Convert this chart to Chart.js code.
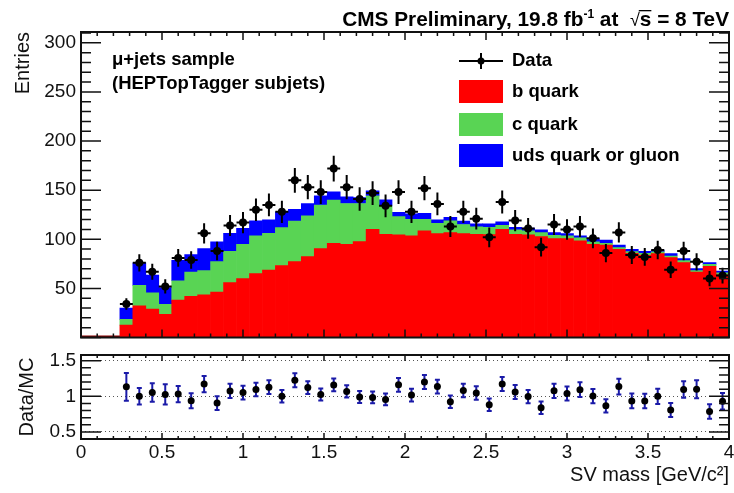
<!DOCTYPE html>
<html>
<head>
<meta charset="utf-8">
<script src="https://cdn.jsdelivr.net/npm/chart.js@4.4.0/dist/chart.umd.min.js"></script>
<style>
  html, body { margin: 0; padding: 0; background: #fff; }
  #wrap { position: relative; width: 734px; height: 493px; }
  #main { position: absolute; left: 0; top: 0; }
  #ratio { position: absolute; left: 0; top: 345px; }
</style>
</head>
<body>
<div id="wrap">
  <canvas id="main" width="734" height="345"></canvas>
  <canvas id="ratio" width="734" height="148"></canvas>
</div>
<script>
const FONT = "'Liberation Sans', Arial, Helvetica, sans-serif";

// SV mass bins, 0.08 GeV wide, 0 - 4 GeV
const binWidth = 0.08;
const binCenters = [
  0.04, 0.12, 0.20, 0.28, 0.36, 0.44, 0.52, 0.60, 0.68, 0.76,
  0.84, 0.92, 1.00, 1.08, 1.16, 1.24, 1.32, 1.40, 1.48, 1.56,
  1.64, 1.72, 1.80, 1.88, 1.96, 2.04, 2.12, 2.20, 2.28, 2.36,
  2.44, 2.52, 2.60, 2.68, 2.76, 2.84, 2.92, 3.00, 3.08, 3.16,
  3.24, 3.32, 3.40, 3.48, 3.56, 3.64, 3.72, 3.80, 3.88, 3.96
];

// simulation, per flavour
const bQuark = [
  0, 0, 0, 12.6, 32.3, 29, 23.5, 38, 42, 43.5,
  46.3, 55.8, 59.9, 65, 68.7, 73.1, 77.2, 82.3, 90.5, 95.9,
  94.9, 97.6, 110.2, 105.1, 104.4, 103.4, 108.5, 105.8, 106.8, 105.8,
  105.1, 104.8, 110.2, 105.1, 104.4, 102.7, 100.7, 100.7, 98.3, 94.9,
  94.2, 89.8, 85.7, 83.7, 85.4, 81.3, 76.2, 66.5, 72.5, 63.8
];
const cQuark = [
  0, 0, 0, 5.8, 20.7, 16.6, 10.2, 19.8, 24.7, 24.5,
  30.9, 32, 35, 38.4, 37.3, 38.8, 41.2, 41.5, 44.2, 43.9,
  41.5, 38.8, 34, 28.9, 18.7, 17, 11.9, 10.5, 11.9, 9.2,
  7.5, 7.4, 4.1, 4.4, 4.1, 4.1, 3.4, 2.7, 3.1, 2.4,
  1.7, 1.7, 1.7, 2, 1.7, 1.7, 2, 1.5, 2, 2.1
];
const udsQuark = [
  0, 0, 0, 11.6, 23, 18, 17, 20.8, 17.7, 22.5,
  20.1, 18.2, 16.3, 15.3, 13.7, 16, 12.2, 12.6, 9.5, 8.5,
  6.8, 6.1, 5.1, 6.1, 4.4, 5.5, 6.1, 3.4, 3.7, 3.4,
  3, 3.4, 3.4, 2.7, 3, 2.7, 2.7, 2.4, 2, 3.4,
  3.4, 2.7, 2.4, 2.1, 2, 2.4, 2.1, 2.1, 1.7, 1.8
];
// observed events
const dataCounts = [
  null, null, null, 34, 76, 67, 52, 81, 79, 106,
  88, 114, 117, 130, 135, 128, 160, 153, 148, 172,
  153, 141, 147, 134, 148, 128, 152, 136, 113, 128,
  121, 102, 138, 119, 111, 92, 115, 110, 113, 101,
  86, 107, 84, 82, 89, 69, 88, 77, 60, 63
];

// tick labels
const xTickValues = [0, 0.5, 1, 1.5, 2, 2.5, 3, 3.5, 4];
const yTickValues = [50, 100, 150, 200, 250, 300];
const ratioTickValues = [0.5, 1, 1.5];

const mcTotal = binCenters.map((_, i) => bQuark[i] + cQuark[i] + udsQuark[i]);

const dataPoints = [];
const ratioPoints = [];
binCenters.forEach((x, i) => {
  const n = dataCounts[i];
  if (n === null) return;
  dataPoints.push({ x, y: n, err: Math.sqrt(n) });
  ratioPoints.push({ x, y: n / mcTotal[i], err: Math.sqrt(n) / mcTotal[i] });
});

const COLORS = { b: '#ff0000', c: '#59d454', uds: '#0000ff' };

function bars(label, values, color) {
  return {
    label,
    data: binCenters.map((x, i) => ({ x, y: values[i] })),
    backgroundColor: color,
    borderWidth: 0,
    barPercentage: 1,
    categoryPercentage: 1,
    stack: 'mc'
  };
}

// fixed axis boxes so both panels share the same left/right edges
const fixWidth = w => s => { s.width = w; s.paddingTop = 0; s.paddingBottom = 0; };
const fixHeight = h => s => { s.height = h; s.paddingLeft = 0; s.paddingRight = 0; };
const plainLabel = v => String(v);

// inner ticks on all four sides + frame, ROOT style
const frameTicks = {
  id: 'frameTicks',
  afterDraw(chart, args, o) {
    const { ctx, chartArea: a, scales } = chart;
    const xs = scales.x, ys = scales.y;
    const isMajor = (v, step) => Math.abs(v / step - Math.round(v / step)) < 1e-6;
    ctx.save();
    ctx.strokeStyle = '#111';
    ctx.lineWidth = 1.5;
    ctx.beginPath();
    for (let k = 0; ; k++) {
      const v = xs.min + k * o.xStep;
      if (v > xs.max + 1e-9) break;
      const px = xs.getPixelForValue(v);
      const len = isMajor(v, o.xMajorStep) ? o.xMajor : o.xMinor;
      ctx.moveTo(px, a.bottom); ctx.lineTo(px, a.bottom - len);
      ctx.moveTo(px, a.top); ctx.lineTo(px, a.top + len);
    }
    for (let k = 0; ; k++) {
      const v = o.yStart + k * o.yStep;
      if (v > ys.max + 1e-9) break;
      if (v < ys.min - 1e-9) continue;
      const py = ys.getPixelForValue(v);
      const len = isMajor(v, o.yMajorStep) ? o.yMajor : o.yMinor;
      ctx.moveTo(a.left, py); ctx.lineTo(a.left + len, py);
      ctx.moveTo(a.right, py); ctx.lineTo(a.right - len, py);
    }
    ctx.stroke();
    ctx.lineWidth = 2;
    ctx.strokeRect(a.left, a.top, a.right - a.left, a.bottom - a.top);
    ctx.restore();
  }
};

// error bars for the data points
const errorBars = {
  id: 'errorBars',
  afterDatasetsDraw(chart, args, o) {
    const { ctx, scales: { x: xs, y: ys } } = chart;
    const ds = chart.data.datasets[o.dataset];
    const meta = chart.getDatasetMeta(o.dataset);
    ctx.save();
    ctx.strokeStyle = o.color;
    ctx.lineWidth = 2;
    ctx.beginPath();
    ds.data.forEach(p => {
      const px = xs.getPixelForValue(p.x);
      const top = ys.getPixelForValue(p.y + p.err);
      const bot = ys.getPixelForValue(p.y - p.err);
      ctx.moveTo(px, top); ctx.lineTo(px, bot);
      if (o.horizontal) {
        const py = ys.getPixelForValue(p.y);
        ctx.moveTo(xs.getPixelForValue(p.x - binWidth / 2), py);
        ctx.lineTo(xs.getPixelForValue(p.x + binWidth / 2), py);
      }
      if (o.cap) {
        ctx.moveTo(px - o.cap, top); ctx.lineTo(px + o.cap, top);
        ctx.moveTo(px - o.cap, bot); ctx.lineTo(px + o.cap, bot);
      }
    });
    ctx.stroke();
    // markers on top of the bars
    ctx.fillStyle = '#000';
    meta.data.forEach(pt => {
      ctx.beginPath();
      ctx.arc(pt.x, pt.y, o.radius, 0, Math.PI * 2);
      ctx.fill();
    });
    ctx.restore();
  }
};

// empty bins: histogram outline along zero
const emptyBins = {
  id: 'emptyBins',
  afterDatasetsDraw(chart) {
    const { ctx, scales: { x: xs, y: ys } } = chart;
    ctx.save();
    ctx.strokeStyle = '#8b0000';
    ctx.lineWidth = 2;
    ctx.beginPath();
    binCenters.forEach((x, i) => {
      if (mcTotal[i] > 0) return;
      const py = ys.getPixelForValue(0) - 1;
      ctx.moveTo(xs.getPixelForValue(x - binWidth / 2), py);
      ctx.lineTo(xs.getPixelForValue(x + binWidth / 2), py);
    });
    ctx.stroke();
    ctx.restore();
  }
};

// header, sample label and legend
const annotations = {
  id: 'annotations',
  afterDraw(chart) {
    const ctx = chart.ctx;
    const bold = '18.5px ' + FONT;
    const head = '20.8px ' + FONT;
    ctx.save();
    ctx.fillStyle = '#000';

    // header, right aligned to the frame
    const right = chart.chartArea.right;
    const base = 26;
    const parts = [
      { t: 'CMS Preliminary, 19.8 fb', f: 'bold ' + head, dy: 0 },
      { t: '-1', f: 'bold 12px ' + FONT, dy: -8 },
      { t: ' at  ', f: 'bold ' + head, dy: 0 },
      { t: '\u221A', f: '18px ' + FONT, dy: 0 },
      { t: 's', f: 'bold ' + head, dy: 0, bar: true },
      { t: ' = 8 TeV', f: 'bold ' + head, dy: 0 }
    ];
    let total = 0;
    parts.forEach(p => { ctx.font = p.f; p.w = ctx.measureText(p.t).width; total += p.w; });
    let x = right - total;
    ctx.textBaseline = 'alphabetic';
    ctx.textAlign = 'left';
    parts.forEach(p => {
      ctx.font = p.f;
      ctx.fillText(p.t, x, base + p.dy);
      if (p.bar) ctx.fillRect(x - 1, base - 16, p.w + 1, 1.3);
      x += p.w;
    });

    ctx.textBaseline = 'middle';
    ctx.font = 'bold ' + bold;
    ctx.fillText('\u03BC+jets sample', 112, 60);
    ctx.fillText('(HEPTopTagger subjets)', 112, 84);

    // legend
    const lx = 459, lw = 44, tx = 512;
    ctx.strokeStyle = '#000';
    ctx.lineWidth = 2;
    ctx.beginPath();
    ctx.moveTo(lx, 61); ctx.lineTo(lx + lw, 61);
    ctx.moveTo(lx + lw / 2, 53); ctx.lineTo(lx + lw / 2, 69);
    ctx.stroke();
    ctx.beginPath();
    ctx.arc(lx + lw / 2, 61, 3.5, 0, Math.PI * 2);
    ctx.fill();
    ctx.fillText('Data', tx, 61);
    const entries = [
      ['b quark', COLORS.b, 80],
      ['c quark', COLORS.c, 113],
      ['uds quark or gluon', COLORS.uds, 144]
    ];
    entries.forEach(([label, color, y]) => {
      ctx.fillStyle = color;
      ctx.fillRect(lx, y, lw, 23);
      ctx.fillStyle = '#000';
      ctx.fillText(label, tx, y + 11.5);
    });
    ctx.restore();
  }
};

const tickFont = { family: FONT, size: 19 };
const titleFont = { family: FONT, size: 20 };

new Chart(document.getElementById('main'), {
  type: 'bar',
  data: {
    datasets: [
      bars('b quark', bQuark, COLORS.b),
      bars('c quark', cQuark, COLORS.c),
      bars('uds quark or gluon', udsQuark, COLORS.uds),
      {
        type: 'scatter',
        label: 'Data',
        data: dataPoints,
        stack: 'data',
        order: -1,
        pointRadius: 0,
        backgroundColor: '#000'
      }
    ]
  },
  options: {
    responsive: false,
    animation: false,
    events: [],
    layout: { padding: { left: 0, right: 5, top: 32, bottom: 7.5 } },
    plugins: {
      legend: { display: false },
      tooltip: { enabled: false },
      frameTicks: {
        xStep: 0.1, xMajorStep: 0.5, xMajor: 8, xMinor: 4,
        yStart: 0, yStep: 10, yMajorStep: 50, yMajor: 20, yMinor: 10
      },
      errorBars: { dataset: 3, color: '#000', horizontal: true, cap: 0, radius: 4 }
    },
    scales: {
      x: {
        type: 'linear', min: 0, max: 4, offset: false, stacked: true,
        display: false
      },
      y: {
        min: 0, max: 311, stacked: true,
        afterBuildTicks: s => { s.ticks = yTickValues.map(v => ({ value: v })); },
        afterFit: fixWidth(81),
        ticks: { font: tickFont, color: '#111', padding: 5, callback: plainLabel },
        grid: { display: false, drawTicks: false },
        border: { display: false },
        title: {
          display: true, text: 'Entries', align: 'end',
          font: titleFont, color: '#111', padding: { top: 11, bottom: 0 }
        }
      }
    }
  },
  plugins: [emptyBins, errorBars, frameTicks, annotations]
});

new Chart(document.getElementById('ratio'), {
  type: 'scatter',
  data: {
    datasets: [{
      label: 'Data/MC',
      data: ratioPoints,
      pointRadius: 0,
      backgroundColor: '#000'
    }]
  },
  options: {
    responsive: false,
    animation: false,
    events: [],
    layout: { padding: { left: 0, right: 5, top: 10, bottom: 0 } },
    plugins: {
      legend: { display: false },
      tooltip: { enabled: false },
      frameTicks: {
        xStep: 0.1, xMajorStep: 0.5, xMajor: 6, xMinor: 3,
        yStart: 0.4, yStep: 0.1, yMajorStep: 0.5, yMajor: 20, yMinor: 10
      },
      errorBars: { dataset: 0, color: '#1a1aa8', horizontal: false, cap: 2.5, radius: 3.5 }
    },
    scales: {
      x: {
        type: 'linear', min: 0, max: 4,
        afterBuildTicks: s => { s.ticks = xTickValues.map(v => ({ value: v })); },
        afterFit: fixHeight(54),
        ticks: { font: tickFont, color: '#111', padding: 2, maxRotation: 0, autoSkip: false, callback: plainLabel },
        grid: { display: false, drawTicks: false },
        border: { display: false },
        title: {
          display: true, text: 'SV mass [GeV/c\u00B2]', align: 'end',
          font: titleFont, color: '#111', padding: { top: 0, bottom: 6 }
        }
      },
      y: {
        min: 0.4, max: 1.58,
        afterBuildTicks: s => { s.ticks = ratioTickValues.map(v => ({ value: v })); },
        afterFit: fixWidth(81),
        ticks: { font: tickFont, color: '#111', padding: 5, callback: plainLabel },
        grid: { color: '#555', lineWidth: 1, drawTicks: false },
        border: { display: false, dash: [1, 3] },
        title: {
          display: true, text: 'Data/MC',
          font: titleFont, color: '#111', padding: { top: 15, bottom: 0 }
        }
      }
    }
  },
  plugins: [errorBars, frameTicks]
});
</script>
</body>
</html>
